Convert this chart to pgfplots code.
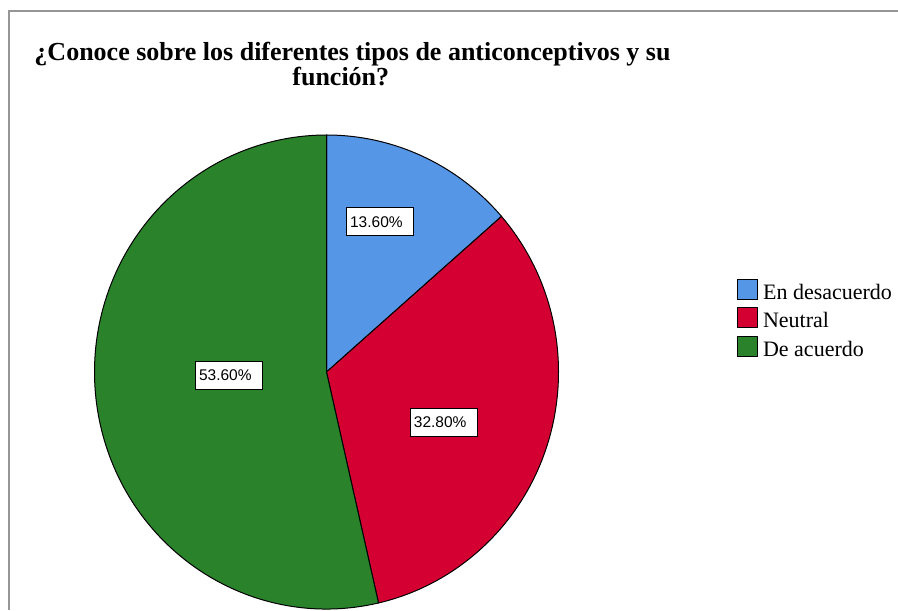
\documentclass[border=0pt]{standalone}
\usepackage{fontspec}
\setmainfont{Liberation Serif}
\newfontfamily\labelfont{Liberation Sans}
\usepackage{pgfplots}
\usepackage{pgfplotstable}
\pgfplotsset{compat=1.18}

\definecolor{slice0}{RGB}{85,150,230}
\definecolor{slice1}{RGB}{213,0,50}
\definecolor{slice2}{RGB}{42,131,42}
\definecolor{framegray}{RGB}{150,150,150}

% porcentaje por categoria, y centro de la etiqueta (unidades del eje)
\pgfplotstableread{
name       value  lx      ly
desacuerdo 13.6   0.231   0.633
neutral    32.8   0.506  -0.211
acuerdo    53.6  -0.420  -0.013
}\piedata

\def\cum{0}
\tikzset{pielabel/.style={draw=black, fill=white, line width=0.5pt,
    font=\labelfont\fontsize{7.75}{9}\selectfont,
    text width=30pt, align=left, inner xsep=1.65pt, inner ysep=0pt,
    minimum height=14pt}}

\begin{document}
\begin{tikzpicture}
\useasboundingbox (0,0) rectangle (449pt,-305pt);
\draw[framegray, line width=1pt] (4.25pt,-305pt) -- (4.25pt,-5.5pt) -- (449pt,-5.5pt);

\node[anchor=base, font=\bfseries\fontsize{13}{15}\selectfont]
  at (176.25pt,-30.5pt) {¿Conoce sobre los diferentes tipos de anticonceptivos y su};
\node[anchor=base, font=\bfseries\fontsize{13}{15}\selectfont]
  at (170.4pt,-43pt) {función?};

\begin{axis}[
    at={(163.25pt,-186pt)}, anchor=origin,
    x=116pt, y=118.5pt,
    xmin=-1, xmax=1, ymin=-1, ymax=1,
    hide axis, clip=false,
    legend image code/.code={\draw[#1, draw=black, line width=0.5pt] (0pt,-4.125pt) rectangle (10pt,5.875pt);},
    legend cell align=left,
    legend style={
        at={(axis cs:1.768,0.403)}, anchor=north west,
        draw=none, fill=none, inner sep=0pt,
        font=\fontsize{11}{13}\selectfont,
        row sep=0pt,
        /tikz/every odd column/.append style={column sep=2.5pt},
        nodes={inner sep=0pt, text height=11.25pt, text depth=3pt},
    },
]
\pgfplotsinvokeforeach{0,1,2}{
  \pgfplotstablegetelem{#1}{value}\of\piedata \let\v\pgfplotsretval
  \pgfplotstablegetelem{#1}{lx}\of\piedata \let\lx\pgfplotsretval
  \pgfplotstablegetelem{#1}{ly}\of\piedata \let\ly\pgfplotsretval
  \pgfmathsetmacro\aA{90-3.6*\cum}
  \pgfmathsetmacro\newcum{\cum+\v}
  \global\let\cum\newcum
  \pgfmathsetmacro\aB{90-3.6*\cum}
  \edef\doit{%
    \noexpand\filldraw[fill=slice#1, draw=black, line width=0.5pt]
      (axis cs:0,0) -- (axis cs:{cos(\aA)},{sin(\aA)})
      arc[start angle=\aA, end angle=\aB, x radius=116pt, y radius=118.5pt] -- cycle;
    \noexpand\node[pielabel] at (axis cs:\lx,\ly)
      {\noexpand\pgfmathprintnumber[fixed, fixed zerofill, precision=2, assume math mode=true]{\v}\noexpand\%};
  }
  \doit
}
\addlegendimage{fill=slice0}
\addlegendentry{En desacuerdo}
\addlegendimage{fill=slice1}
\addlegendentry{Neutral}
\addlegendimage{fill=slice2}
\addlegendentry{De acuerdo}
\end{axis}
\end{tikzpicture}
\end{document}
